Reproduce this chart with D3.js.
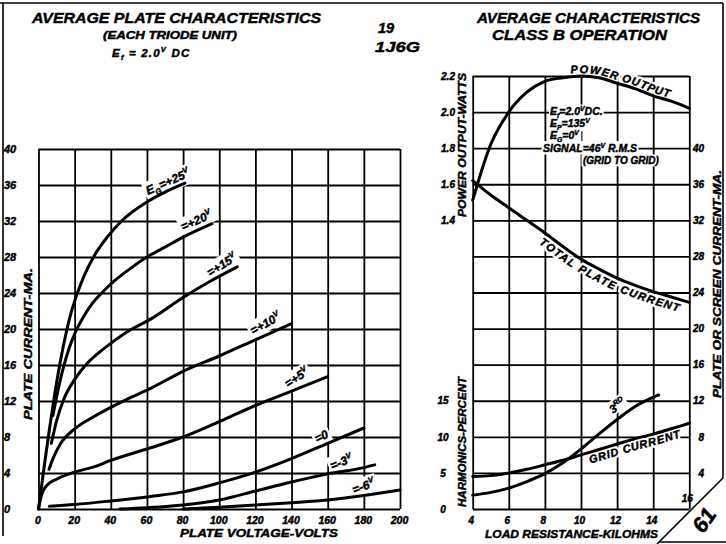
<!DOCTYPE html>
<html><head><meta charset="utf-8">
<script src="https://cdn.jsdelivr.net/npm/d3@7"></script>
<style>
body{margin:0;background:#fff;}
svg{display:block;background:#fff;}
text{font-family:"Liberation Sans",Arial,sans-serif;font-weight:bold;font-style:italic;fill:#000;}
.ink{stroke:#000;stroke-width:0.45px;}
</style></head><body>
<svg id="c" width="726" height="544"></svg>
<script>
// ---------- LEFT PANEL DATA: average plate characteristics ----------
const plateVoltTicks = [0,20,40,60,80,100,120,140,160,180,200];
const plateCurrentTicks = [0,4,8,12,16,20,24,28,32,36,40];
// [plate volts, plate mA] per grid voltage
const curveEgP25 = [[0,0],[3,4.5],[6,8.8],[9,12.8],[12,16.3],[15,19.3],[18,21.8],[21,23.7],[25,25.8],[31,28.2],[38,30.2],[46,32],[60,34.1],[70,35.2],[81,36.2]];
const curveEgP20 = [[8,10.4],[11,13.4],[14,15.9],[17,17.9],[21,19.9],[25,21.4],[30,22.9],[35,24],[40,25],[50,26.6],[60,28],[70,29.1],[80,30.2],[96,31.7]];
const curveEgP15 = [[7.1,7.3],[10,9.8],[14,12.2],[20,14.4],[27,16.2],[33,17.3],[40,18.4],[50,19.8],[62,21.1],[80,23.5],[95,25.3],[110,26.9]];
const curveEgP10 = [[5.8,4.4],[8,5.6],[12,7.2],[20,8.9],[30,10.2],[40,11.3],[50,12.3],[62,13.4],[80,15.3],[100,17],[120,18.8],[140,20.6]];
const curveEgP5  = [[0,0],[1,1],[2.5,2],[5,2.7],[10,3.3],[20,4.1],[31,4.7],[40,5.4],[62,6.8],[80,8],[100,9.7],[120,11.5],[140,13.1],[160,14.7]];
const curveEg0   = [[6,0.3],[20,0.5],[40,0.9],[62,1.4],[80,1.9],[100,2.9],[120,4.1],[140,5.6],[160,7.3],[180,9.0]];
const curveEgM3  = [[45,0],[60,0.15],[80,0.45],[100,1.0],[120,2.0],[140,3.0],[160,3.9],[180,4.6],[186,4.9]];
const curveEgM6  = [[80,0],[100,0.2],[120,0.45],[140,0.7],[160,1.0],[180,1.5],[200,2.1]];
const leftCurves = [curveEgP25,curveEgP20,curveEgP15,curveEgP10,curveEgP5,curveEg0,curveEgM3,curveEgM6];

// ---------- RIGHT PANEL DATA: class B operation ----------
const loadResTicks = [4,6,8,10,12,14,16];
const powerTicks = [1.4,1.6,1.8,2.0,2.2];
const harmTicks = [0,5,10,15];
const currentTicks = [4,8,12,16,20,24,28,32,36,40];
const loadRes      = [4,5,6,7,8,9,10,11,12,13,14,15,16];
const powerOutput  = [1.51,1.82,2.0,2.11,2.17,2.19,2.2,2.19,2.16,2.13,2.09,2.06,2.02];
const plateCurrent = [36.4,34.8,33.4,32,30.6,29.1,27.7,26.6,25.6,24.8,24.1,23.5,22.9];
const gridCurrent  = [3.6,3.7,4.0,4.4,4.9,5.4,6.0,6.6,7.2,7.8,8.3,8.9,9.5];
const harmRes      = [4,5,6,7,8,9,10,11,12,13,14.3];
const thirdHarm    = [1.9,2.3,2.9,3.8,4.9,6.4,8.3,10.4,12.4,14.2,15.8];

// ---------- SETUP ----------
const svg = d3.select("#c");
const gGrid = svg.append("g"), gMask = svg.append("g"), gCurves = svg.append("g"), gText = svg.append("g");

const xL = d3.scaleLinear().domain([0,200]).range([38.5,400]);
const yL = d3.scaleLinear().domain([0,40]).range([509,149]);
const xR = d3.scaleLinear().domain([4,16]).range([472.7,689.3]);
const yPow = d3.scaleLinear().domain([1.4,2.2]).range([220,76]);
const yCur = d3.scaleLinear().domain([0,48]).range([509,76]);
const yHarm = d3.scaleLinear().domain([0,60]).range([509,76]);

function styleGrid(g){ g.select(".domain").remove(); g.selectAll("line").attr("stroke","#000").attr("stroke-width",1.8); g.selectAll("text").remove(); }
function styleLabels(g, fs){ g.select(".domain").remove(); g.selectAll("line").remove(); g.selectAll("text").attr("font-size",fs).attr("fill","#000").attr("class","ink").style("font-family",null); }

// left grid
gGrid.append("g").attr("transform",`translate(0,${yL(0)})`)
  .call(d3.axisBottom(xL).tickValues(plateVoltTicks).tickSize(-(yL(0)-yL(40))).tickFormat("")).call(styleGrid);
gGrid.append("g").attr("transform",`translate(${xL(0)},0)`)
  .call(d3.axisLeft(yL).tickValues(plateCurrentTicks).tickSize(-(xL(200)-xL(0))).tickFormat("")).call(styleGrid);
// right grid
gGrid.append("g").attr("transform",`translate(0,${yCur(0)})`)
  .call(d3.axisBottom(xR).tickValues(loadResTicks).tickSize(-(yCur(0)-yCur(48))).tickFormat("")).call(styleGrid);
gGrid.append("g").attr("transform",`translate(${xR(4)},0)`)
  .call(d3.axisLeft(yCur).tickValues(d3.range(0,49,4)).tickSize(-(xR(16)-xR(4))).tickFormat("")).call(styleGrid);

// left tick labels
gText.append("g").attr("transform",`translate(4,0)`)
  .call(d3.axisLeft(yL).tickValues(plateCurrentTicks).tickSize(0).tickPadding(0))
  .call(g=>styleLabels(g,11)).call(g=>g.selectAll("text").attr("x",0).attr("text-anchor","start"));
gText.append("g").attr("transform",`translate(-1,${yL(0)})`)
  .call(d3.axisBottom(xL).tickValues(plateVoltTicks).tickSize(0).tickPadding(8))
  .call(g=>styleLabels(g,10.5));
// right tick labels
gText.append("g").attr("transform",`translate(448,0)`)
  .call(d3.axisLeft(yPow).tickValues(powerTicks).tickSize(0).tickPadding(0).tickFormat(d3.format(".1f")))
  .call(g=>styleLabels(g,10)).call(g=>g.selectAll("text").attr("x",0).attr("text-anchor","middle"));
gText.append("g").attr("transform",`translate(443,0)`)
  .call(d3.axisLeft(yHarm).tickValues(harmTicks).tickSize(0).tickPadding(0))
  .call(g=>styleLabels(g,10)).call(g=>g.selectAll("text").attr("x",0).attr("text-anchor","middle"));
gText.append("g").attr("transform",`translate(704,0)`)
  .call(d3.axisRight(yCur).tickValues(currentTicks).tickSize(0).tickPadding(0))
  .call(g=>styleLabels(g,10)).call(g=>g.selectAll("text").attr("x",0).attr("text-anchor","end"));
gText.append("g").attr("transform",`translate(-2,${yCur(0)})`)
  .call(d3.axisBottom(xR).tickValues(loadResTicks.slice(0,-1)).tickSize(0).tickPadding(8))
  .call(g=>styleLabels(g,10));
gText.append("text").attr("class","ink").attr("x",xR(16)-2).attr("y",502).attr("text-anchor","middle").attr("font-size",10).text("16");

// ---------- CURVES ----------
const lineL = d3.line().x(d=>xL(d[0])).y(d=>yL(d[1])).curve(d3.curveMonotoneX);
gCurves.selectAll("path.lc").data(leftCurves).join("path").attr("class","lc")
  .attr("d",lineL).attr("fill","none").attr("stroke","#000").attr("stroke-width",3).attr("stroke-linecap","round");

const lineR = (xs, ys, yScale) => d3.line().x((d,i)=>xR(xs[i])).y((d,i)=>yScale(ys[i])).curve(d3.curveMonotoneX)(ys);
const powPath = gCurves.append("path").attr("id","powP").attr("d",lineR(loadRes,powerOutput,yPow));
const platePath = gCurves.append("path").attr("id","plateP").attr("d",lineR(loadRes,plateCurrent,yCur));
const gridPath = gCurves.append("path").attr("id","gridP").attr("d",lineR(loadRes,gridCurrent,yCur));
const harmPath = gCurves.append("path").attr("id","harmP").attr("d",lineR(harmRes,thirdHarm,yHarm));
gCurves.selectAll("#powP,#plateP,#gridP,#harmP").attr("fill","none").attr("stroke","#000").attr("stroke-width",3).attr("stroke-linecap","round");

// ---------- TEXT HELPERS ----------
function rich(t, parts, fs){
  let shift = 0;
  parts.forEach(p=>{
    const k = p[1]||"n";
    const target = k==="sub"? fs*0.3 : k==="sup"? -fs*0.42 : 0;
    t.append("tspan").text(p[0]).attr("dy", target-shift).attr("font-size", k==="n"?fs:fs*0.65);
    shift = target;
  });
  return t;
}
function label(x, y, angle, parts, fs, opts={}){
  const g = gText.append("g").attr("transform",`translate(${x},${y}) rotate(${angle})`);
  const t = rich(g.append("text").attr("class","ink").attr("x",0).attr("y",0).attr("font-size",fs), parts, fs);
  if(opts.anchor) t.attr("text-anchor",opts.anchor);
  if(opts.ls) t.attr("letter-spacing",opts.ls);
  if(opts.len) t.attr("textLength",opts.len).attr("lengthAdjust","spacingAndGlyphs");
  if(opts.mask!==false){
    const b = t.node().getBBox(), p = opts.pad==null?2:opts.pad;
    gMask.append("g").attr("transform",`translate(${x},${y}) rotate(${angle})`)
      .append("rect").attr("x",b.x-p).attr("y",b.y+1-p).attr("width",b.width+2*p).attr("height",b.height-2+2*p).attr("fill","#fff");
  }
  return t;
}
function lengthAtX(node, x){
  let lo=0, hi=node.getTotalLength();
  for(let i=0;i<40;i++){ const m=(lo+hi)/2; if(node.getPointAtLength(m).x<x) lo=m; else hi=m; }
  return lo;
}
function pathLabel(id, node, xStart, dy, txt, fs, ls){
  const off = lengthAtX(node, xStart);
  [gMask, gText].forEach((layer,i)=>{
    const t = layer.append("text").attr("font-size",fs).attr("letter-spacing",ls);
    if(i===0) t.attr("stroke","#fff").attr("stroke-width",5).attr("stroke-linejoin","round").attr("fill","#fff");
    else t.attr("class","ink");
    t.append("textPath").attr("href","#"+id).attr("startOffset",off).append("tspan").attr("dy",dy).text(txt);
  });
}

// ---------- LEFT TEXTS ----------
label(32,23,0,[["AVERAGE  PLATE CHARACTERISTICS"]],15.5,{len:289,mask:false});
label(103,39,0,[["(EACH TRIODE UNIT)"]],10,{len:134,mask:false});
label(112,57,0,[["E"],["f","sub"],[" = 2.0"],["V","sup"],[" DC"]],11.5,{mask:false,ls:1.2});
label(378,33,0,[["19"]],14.5,{mask:false});
label(375,52,0,[["1J6G"]],15,{len:45,mask:false});
label(32,344,-90,[["PLATE CURRENT-MA."]],11.5,{anchor:"middle",len:152,pad:2});
label(180,537,0,[["PLATE VOLTAGE-VOLTS"]],11,{len:158,mask:false});

label(148,195,-24,[["E"],["G","sub"],["=+25"],["V","sup"]],12,{});
label(183,231,-24,[["=+20"],["V","sup"]],12,{});
label(210,277,-32,[["=+15"],["V","sup"]],12,{});
label(253,335,-29,[["=+10"],["V","sup"]],12,{});
label(288,388,-33,[["=+5"],["V","sup"]],12,{});
label(317,443,-26,[["=0"]],12,{});
label(332,470,-21,[["=-3"],["V","sup"]],12,{});
label(354,494,-20,[["=-6"],["V","sup"]],12,{});

// ---------- RIGHT TEXTS ----------
label(477,23,0,[["AVERAGE CHARACTERISTICS"]],15.5,{len:223,mask:false});
label(492,40,0,[["CLASS B OPERATION"]],15.5,{len:175,mask:false});
label(466,145,-90,[["POWER OUTPUT-WATTS"]],10.5,{anchor:"middle",len:144,mask:false});
label(466,442,-90,[["HARMONICS-PERCENT"]],10.5,{anchor:"middle",len:130,mask:false});
label(721,284,-90,[["PLATE OR SCREEN CURRENT-MA."]],11.5,{anchor:"middle",len:228,mask:false});
label(485,538,0,[["LOAD RESISTANCE-KILOHMS"]],11,{len:173,mask:false});

label(550,115,0,[["E"],["f","sub"],["=2.0"],["V","sup"],["DC."]],10.5,{pad:1});
label(550,127,0,[["E"],["P","sub"],["=135"],["V","sup"]],10.5,{pad:1});
label(550,139,0,[["E"],["G","sub"],["=0"],["V","sup"]],10.5,{pad:1});
label(543,152,0,[["SIGNAL=46"],["V","sup"],[" R.M.S"]],10.5,{pad:1.5});
label(583,164,0,[["(GRID TO GRID)"]],10,{pad:1.5});
label(613,414,-38,[["3"],["RD","sup"]],11.5,{pad:1});

pathLabel("powP", powPath.node(), 571, -3, "POWER OUTPUT", 11, 1);
pathLabel("plateP", platePath.node(), 546, 12, "TOTAL PLATE CURRENT", 11, 1.2);
pathLabel("gridP", gridPath.node(), 587, 11, "GRID CURRENT", 11, 0.9);

// ---------- BORDERS & PAGE CORNER ----------
const border = [[[0,3],[723,3]],[[3,3],[3,536]],[[723,3],[723,478]],[[723,478],[657,544]],[[659,542],[726,542]]];
gGrid.selectAll("path.b").data(border).join("path").attr("class","b")
  .attr("d",d3.line()).attr("fill","none").attr("stroke","#000").attr("stroke-width",1.6);
gText.append("text").attr("class","ink").attr("transform","translate(704,520) rotate(-55)").attr("text-anchor","middle")
  .attr("dy","0.35em").attr("font-size",22).text("61");
</script>
</body></html>
